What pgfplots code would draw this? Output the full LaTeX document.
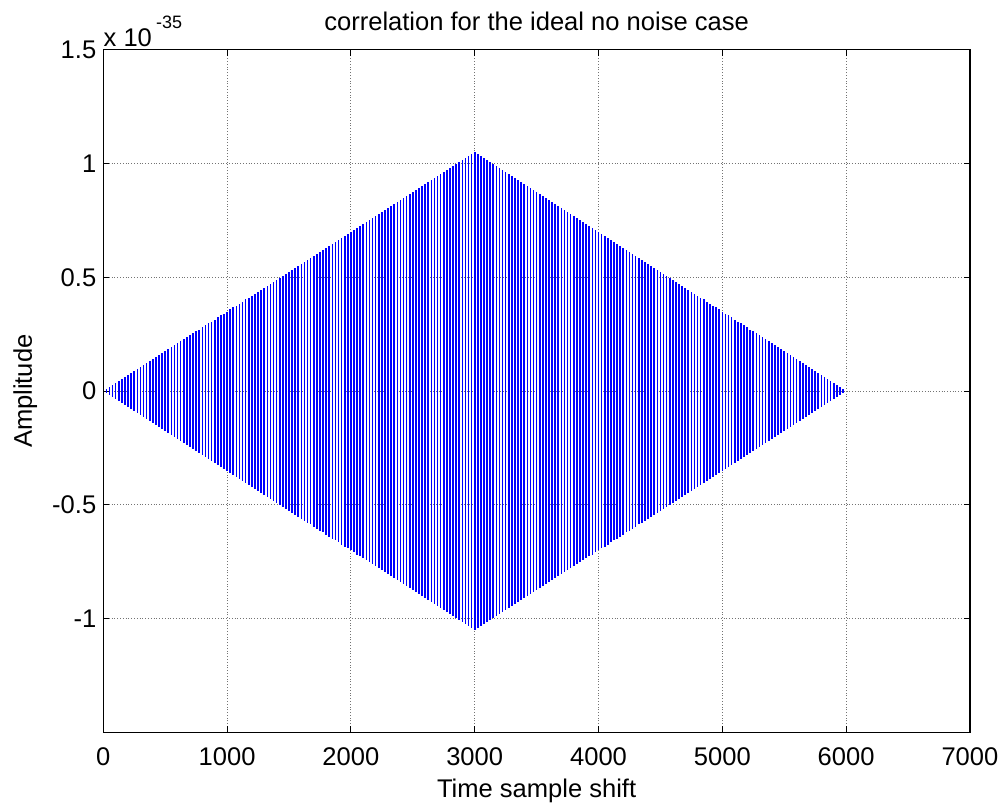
\documentclass[border=0pt]{standalone}
\usepackage{pgfplots}
\pgfplotsset{compat=1.18}
\usepackage{pgfplotstable}
\usepackage{fontspec}
\setmainfont{Liberation Sans}

% envelope of the correlation stripes, one row every 25 samples
\pgfplotstableread[row sep=\\]{
x t b\\
0 0.000 -0.000\\ 25 0.009 -0.009\\ 50 0.018 -0.018\\ 75 0.026 -0.026\\ 100 0.035 -0.035\\
125 0.044 -0.044\\ 150 0.053 -0.053\\ 175 0.061 -0.061\\ 200 0.070 -0.070\\ 225 0.079 -0.079\\
250 0.088 -0.088\\ 275 0.096 -0.096\\ 300 0.105 -0.105\\ 325 0.114 -0.114\\ 350 0.123 -0.123\\
375 0.131 -0.131\\ 400 0.140 -0.140\\ 425 0.149 -0.149\\ 450 0.158 -0.158\\ 475 0.166 -0.166\\
500 0.175 -0.175\\ 525 0.184 -0.184\\ 550 0.193 -0.193\\ 575 0.201 -0.201\\ 600 0.210 -0.210\\
625 0.219 -0.219\\ 650 0.228 -0.228\\ 675 0.236 -0.236\\ 700 0.245 -0.245\\ 725 0.254 -0.254\\
750 0.263 -0.263\\ 775 0.271 -0.271\\ 800 0.280 -0.280\\ 825 0.289 -0.289\\ 850 0.298 -0.298\\
875 0.306 -0.306\\ 900 0.315 -0.315\\ 925 0.324 -0.324\\ 950 0.333 -0.333\\ 975 0.341 -0.341\\
1000 0.350 -0.350\\ 1025 0.359 -0.359\\ 1050 0.368 -0.368\\ 1075 0.376 -0.376\\ 1100 0.385 -0.385\\
1125 0.394 -0.394\\ 1150 0.403 -0.403\\ 1175 0.411 -0.411\\ 1200 0.420 -0.420\\ 1225 0.429 -0.429\\
1250 0.438 -0.438\\ 1275 0.446 -0.446\\ 1300 0.455 -0.455\\ 1325 0.464 -0.464\\ 1350 0.473 -0.473\\
1375 0.481 -0.481\\ 1400 0.490 -0.490\\ 1425 0.499 -0.499\\ 1450 0.508 -0.508\\ 1475 0.516 -0.516\\
1500 0.525 -0.525\\ 1525 0.534 -0.534\\ 1550 0.543 -0.543\\ 1575 0.551 -0.551\\ 1600 0.560 -0.560\\
1625 0.569 -0.569\\ 1650 0.578 -0.578\\ 1675 0.586 -0.586\\ 1700 0.595 -0.595\\ 1725 0.604 -0.604\\
1750 0.613 -0.613\\ 1775 0.621 -0.621\\ 1800 0.630 -0.630\\ 1825 0.639 -0.639\\ 1850 0.648 -0.648\\
1875 0.656 -0.656\\ 1900 0.665 -0.665\\ 1925 0.674 -0.674\\ 1950 0.683 -0.683\\ 1975 0.691 -0.691\\
2000 0.700 -0.700\\ 2025 0.709 -0.709\\ 2050 0.718 -0.718\\ 2075 0.726 -0.726\\ 2100 0.735 -0.735\\
2125 0.744 -0.744\\ 2150 0.753 -0.753\\ 2175 0.761 -0.761\\ 2200 0.770 -0.770\\ 2225 0.779 -0.779\\
2250 0.788 -0.788\\ 2275 0.796 -0.796\\ 2300 0.805 -0.805\\ 2325 0.814 -0.814\\ 2350 0.823 -0.823\\
2375 0.831 -0.831\\ 2400 0.840 -0.840\\ 2425 0.849 -0.849\\ 2450 0.858 -0.858\\ 2475 0.866 -0.866\\
2500 0.875 -0.875\\ 2525 0.884 -0.884\\ 2550 0.893 -0.893\\ 2575 0.901 -0.901\\ 2600 0.910 -0.910\\
2625 0.919 -0.919\\ 2650 0.928 -0.928\\ 2675 0.936 -0.936\\ 2700 0.945 -0.945\\ 2725 0.954 -0.954\\
2750 0.963 -0.963\\ 2775 0.971 -0.971\\ 2800 0.980 -0.980\\ 2825 0.989 -0.989\\ 2850 0.998 -0.998\\
2875 1.006 -1.006\\ 2900 1.015 -1.015\\ 2925 1.024 -1.024\\ 2950 1.033 -1.033\\ 2975 1.041 -1.041\\
3000 1.050 -1.050\\
3025 1.041 -1.041\\ 3050 1.033 -1.033\\ 3075 1.024 -1.024\\ 3100 1.015 -1.015\\ 3125 1.006 -1.006\\
3150 0.998 -0.998\\ 3175 0.989 -0.989\\ 3200 0.980 -0.980\\ 3225 0.971 -0.971\\ 3250 0.963 -0.963\\
3275 0.954 -0.954\\ 3300 0.945 -0.945\\ 3325 0.936 -0.936\\ 3350 0.928 -0.928\\ 3375 0.919 -0.919\\
3400 0.910 -0.910\\ 3425 0.901 -0.901\\ 3450 0.893 -0.893\\ 3475 0.884 -0.884\\ 3500 0.875 -0.875\\
3525 0.866 -0.866\\ 3550 0.858 -0.858\\ 3575 0.849 -0.849\\ 3600 0.840 -0.840\\ 3625 0.831 -0.831\\
3650 0.823 -0.823\\ 3675 0.814 -0.814\\ 3700 0.805 -0.805\\ 3725 0.796 -0.796\\ 3750 0.788 -0.788\\
3775 0.779 -0.779\\ 3800 0.770 -0.770\\ 3825 0.761 -0.761\\ 3850 0.753 -0.753\\ 3875 0.744 -0.744\\
3900 0.735 -0.735\\ 3925 0.726 -0.726\\ 3950 0.718 -0.718\\ 3975 0.709 -0.709\\ 4000 0.700 -0.700\\
4025 0.691 -0.691\\ 4050 0.683 -0.683\\ 4075 0.674 -0.674\\ 4100 0.665 -0.665\\ 4125 0.656 -0.656\\
4150 0.648 -0.648\\ 4175 0.639 -0.639\\ 4200 0.630 -0.630\\ 4225 0.621 -0.621\\ 4250 0.613 -0.613\\
4275 0.604 -0.604\\ 4300 0.595 -0.595\\ 4325 0.586 -0.586\\ 4350 0.578 -0.578\\ 4375 0.569 -0.569\\
4400 0.560 -0.560\\ 4425 0.551 -0.551\\ 4450 0.543 -0.543\\ 4475 0.534 -0.534\\ 4500 0.525 -0.525\\
4525 0.516 -0.516\\ 4550 0.508 -0.508\\ 4575 0.499 -0.499\\ 4600 0.490 -0.490\\ 4625 0.481 -0.481\\
4650 0.473 -0.473\\ 4675 0.464 -0.464\\ 4700 0.455 -0.455\\ 4725 0.446 -0.446\\ 4750 0.438 -0.438\\
4775 0.429 -0.429\\ 4800 0.420 -0.420\\ 4825 0.411 -0.411\\ 4850 0.403 -0.403\\ 4875 0.394 -0.394\\
4900 0.385 -0.385\\ 4925 0.376 -0.376\\ 4950 0.368 -0.368\\ 4975 0.359 -0.359\\ 5000 0.350 -0.350\\
5025 0.341 -0.341\\ 5050 0.333 -0.333\\ 5075 0.324 -0.324\\ 5100 0.315 -0.315\\ 5125 0.306 -0.306\\
5150 0.298 -0.298\\ 5175 0.289 -0.289\\ 5200 0.280 -0.280\\ 5225 0.271 -0.271\\ 5250 0.263 -0.263\\
5275 0.254 -0.254\\ 5300 0.245 -0.245\\ 5325 0.236 -0.236\\ 5350 0.228 -0.228\\ 5375 0.219 -0.219\\
5400 0.210 -0.210\\ 5425 0.201 -0.201\\ 5450 0.193 -0.193\\ 5475 0.184 -0.184\\ 5500 0.175 -0.175\\
5525 0.166 -0.166\\ 5550 0.158 -0.158\\ 5575 0.149 -0.149\\ 5600 0.140 -0.140\\ 5625 0.131 -0.131\\
5650 0.123 -0.123\\ 5675 0.114 -0.114\\ 5700 0.105 -0.105\\ 5725 0.096 -0.096\\ 5750 0.088 -0.088\\
5775 0.079 -0.079\\ 5800 0.070 -0.070\\ 5825 0.061 -0.061\\ 5850 0.053 -0.053\\ 5875 0.044 -0.044\\
5900 0.035 -0.035\\ 5925 0.026 -0.026\\ 5950 0.018 -0.018\\ 5975 0.009 -0.009\\ 6000 0.000 -0.000\\
}\corr

\begin{document}
\begin{tikzpicture}[font=\fontsize{12.8}{15}\selectfont]
\begin{axis}[
    scale only axis,
    width=434.25pt, height=342pt,
    xmin=0, xmax=7000,
    ymin=-1.5, ymax=1.5,
    xtick={0,1000,2000,3000,4000,5000,6000,7000},
    xticklabels={0,1000,2000,3000,4000,5000,6000,7000},
    ytick={-1,-0.5,0,0.5,1,1.5},
    yticklabels={-1,-0.5,0,0.5,1,1.5},
    tick align=inside,
    major tick length=3pt,
    tick style={black, line width=0.5pt},
    xtick pos=both, ytick pos=both,
    xticklabel style={anchor=base, yshift=-16.5pt},
    grid=major,
    grid style={densely dotted, black!55, line width=0.5pt},
    axis line style={black, line width=0.6pt},
    title={correlation for the ideal no noise case},
    every axis title/.style={at={(axis description cs:0.5,1.0285)}, anchor=base, inner sep=0pt},
    xlabel={Time sample shift},
    xlabel style={at={(axis description cs:0.5,-0.095)}, anchor=base, inner sep=0pt},
    ylabel={Amplitude},
    ylabel style={at={(axis description cs:-0.0823,0.5)}, anchor=base, inner sep=0pt},
    clip=false,
]
\addplot[blue, line width=0.8pt, ycomb, mark=none] table[x=x, y=t] {\corr};
\addplot[blue, line width=0.8pt, ycomb, mark=none] table[x=x, y=b] {\corr};
\node[anchor=base west, inner sep=0pt] at (rel axis cs:0,1) [yshift=1.5pt]
    {x 10\,\raisebox{9pt}{\fontsize{9}{10}\selectfont -35}};
\end{axis}
\path (-51.75pt,-37pt) rectangle (450.75pt,367pt);
\end{tikzpicture}
\end{document}
